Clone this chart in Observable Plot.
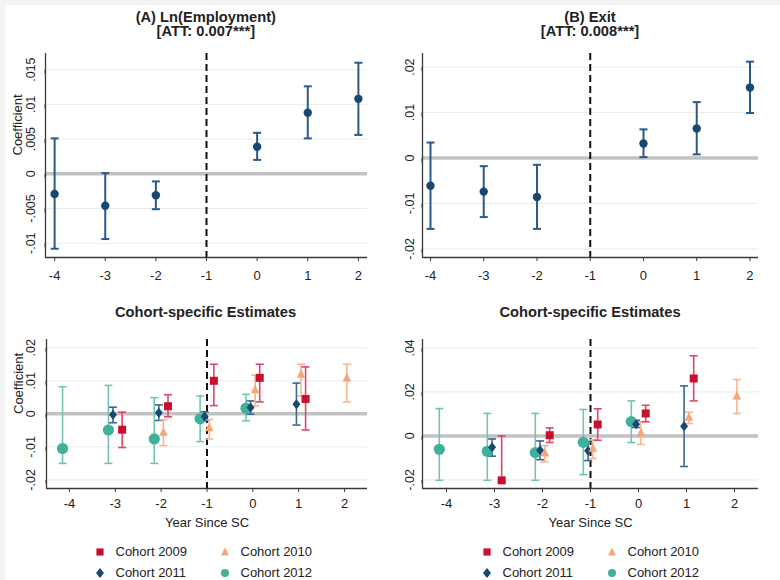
<!DOCTYPE html>
<html>
<head>
<meta charset="utf-8">
<script src="https://cdn.jsdelivr.net/npm/d3@7"></script>
<script src="https://cdn.jsdelivr.net/npm/@observablehq/plot@0.6"></script>
<style>
  html, body { margin: 0; padding: 0; background: #f3f3f3; }
  #page { position: absolute; left: 5px; top: 5px; width: 775px; height: 575px; background: #fff; }
  #root { position: absolute; left: 0; top: 0; width: 780px; height: 580px; font-family: "Liberation Sans", Arial, sans-serif; color: #222; }
  .panel { position: absolute; }
  .title { position: absolute; text-align: center; font-weight: bold; font-size: 14.7px; line-height: 14.7px; color: #222; }
  .leg { position: absolute; font-size: 13px; color: #222; white-space: nowrap; }
  .leg svg { position: absolute; overflow: visible; }
</style>
</head>
<body>
<div id="page"></div>
<div id="root"></div>
<script>
// ---------------- DATA ----------------
const eventYears = [-4, -3, -2, 0, 1, 2];
const xTicks = [-4, -3, -2, -1, 0, 1, 2];
const eventLine = -1;

// Panel A: Ln(Employment)
const empCoef = [-0.0029, -0.0046, -0.0031, 0.0039, 0.0088, 0.0108];
const empLo   = [-0.0108, -0.0094, -0.0051, 0.0020, 0.0051, 0.0056];
const empHi   = [ 0.0051,  0.0001, -0.0011, 0.0059, 0.0126, 0.0160];
const empTicks  = [-0.01, -0.005, 0, 0.005, 0.01, 0.015];
const empLabels = ["-.01", "-.005", "0", ".005", ".01", ".015"];

// Panel B: Exit
const exitCoef = [-0.0061, -0.0074, -0.0086, 0.0032, 0.0065, 0.0155];
const exitLo   = [-0.0156, -0.0130, -0.0156, 0.0002, 0.0008, 0.0099];
const exitHi   = [ 0.0034, -0.0018, -0.0015, 0.0063, 0.0123, 0.0212];
const exitTicks  = [-0.02, -0.01, 0, 0.01, 0.02];
const exitLabels = ["-.02", "-.01", "0", ".01", ".02"];

// Cohort-specific
const cohortNames = ["Cohort 2009", "Cohort 2010", "Cohort 2011", "Cohort 2012"];
const cohortYears = [
  [-3, -2, -1, 0, 1],   // 2009
  [-2, -1, 0, 1, 2],    // 2010
  [-3, -2, -1, 0, 1],   // 2011
  [-4, -3, -2, -1, 0]   // 2012
];
// Employment, cohort-specific
const empCohortCoef = [
  [-0.0048, 0.0023, 0.0100, 0.0109, 0.0045],
  [-0.0055, -0.0042, 0.0073, 0.0120, 0.0109],
  [-0.0003, 0.0003, -0.0008, 0.0019, 0.0029],
  [-0.0105, -0.0049, -0.0076, -0.0015, 0.0017]
];
const empCohortLo = [
  [-0.0102, -0.0009, 0.0025, 0.0036, -0.0049],
  [-0.0096, -0.0076, 0.0024, 0.0054, 0.0036],
  [-0.0027, -0.0020, -0.0021, -0.0001, -0.0034],
  [-0.0150, -0.0150, -0.0150, -0.0084, -0.0021]
];
const empCohortHi = [
  [0.0005, 0.0058, 0.0150, 0.0150, 0.0142],
  [-0.0018, -0.0017, 0.0117, 0.0150, 0.0150],
  [0.0020, 0.0027, 0.0006, 0.0039, 0.0093],
  [0.0082, 0.0086, 0.0049, 0.0054, 0.0059]
];
const empCohortTicks  = [-0.02, -0.01, 0, 0.01, 0.02];
const empCohortLabels = ["-.02", "-.01", "0", ".01", ".02"];

// Exit, cohort-specific
const exitCohortCoef = [
  [-0.0202, 0.0003, 0.0052, 0.0102, 0.0261],
  [-0.0077, -0.0055, 0.0015, 0.0086, 0.0182],
  [-0.0052, -0.0065, -0.0068, 0.0053, 0.0044],
  [-0.0061, -0.0070, -0.0076, -0.0029, 0.0065]
];
const exitCohortLo = [
  [-0.0205, -0.0030, -0.0020, 0.0064, 0.0159],
  [-0.0118, -0.0103, -0.0039, 0.0056, 0.0102],
  [-0.0092, -0.0108, -0.0112, 0.0038, -0.0139],
  [-0.0202, -0.0202, -0.0202, -0.0176, -0.0030]
];
const exitCohortHi = [
  [0.0000, 0.0036, 0.0123, 0.0139, 0.0364],
  [-0.0044, -0.0018, 0.0064, 0.0108, 0.0256],
  [-0.0014, -0.0023, -0.0027, 0.0071, 0.0227],
  [0.0124, 0.0102, 0.0102, 0.0120, 0.0159]
];
const exitCohortTicks  = [-0.02, 0, 0.02, 0.04];
const exitCohortLabels = ["-.02", "0", ".02", ".04"];

// ---------------- STYLE ----------------
const navy = "#1a476f";
const ciNavy = "#2c5a86";
const cohortColors = ["#c8102e", "#f7a677", "#1a476f", "#3fb09a"];
const cohortCIColors = ["#d84a68", "#f8b58f", "#3c6791", "#72c4b2"];
const cohortOffset = [0.15, 0.05, -0.05, -0.15];
const FONT = "'Liberation Sans', Arial, sans-serif";

const capSym = { draw(ctx, size) { const r = Math.sqrt(size / Math.PI); ctx.moveTo(-r, 0); ctx.lineTo(r, 0); } };
const squareSym = { draw(ctx, size) { const s = Math.sqrt(size / Math.PI); ctx.rect(-s, -s, 2 * s, 2 * s); } };
const diamondSym = { draw(ctx, size) { const s = Math.sqrt(size / Math.PI); ctx.moveTo(0, -1.25 * s); ctx.lineTo(s, 0); ctx.lineTo(0, 1.25 * s); ctx.lineTo(-s, 0); ctx.closePath(); } };
const triSym = { draw(ctx, size) { const s = Math.sqrt(size / Math.PI); ctx.moveTo(0, -1.15 * s); ctx.lineTo(s, 0.85 * s); ctx.lineTo(-s, 0.85 * s); ctx.closePath(); } };
const circSym = { draw(ctx, size) { const s = Math.sqrt(size / Math.PI); ctx.moveTo(s, 0); ctx.arc(0, 0, s, 0, 2 * Math.PI); } };
const cohortSymbols = [squareSym, triSym, diamondSym, circSym];
const cohortR = [4, 4.3, 4, 5.6];

function rows(xs, coef, lo, hi) {
  return xs.map((x, i) => ({ x, coef: coef[i], lo: lo[i], hi: hi[i] }));
}

function panel(o) {
  const fmt = d => o.yLabels[o.yTicks.indexOf(d)];
  return Plot.plot({
    width: o.width, height: o.height,
    marginLeft: o.ml, marginRight: o.mr, marginTop: o.mt, marginBottom: o.mb,
    style: { fontFamily: FONT, fontSize: "13px", color: "#222", background: "transparent", overflow: "visible" },
    x: { domain: o.xDomain },
    y: { domain: o.yDomain },
    marks: [
      Plot.ruleY(o.yTicks.filter(t => t !== 0), { stroke: "#ebebeb", strokeWidth: 1 }),
      Plot.ruleY([0], { stroke: "#c2c2c2", strokeWidth: 3.5 }),
      Plot.ruleX([eventLine], { stroke: "#111", strokeWidth: 2, strokeDasharray: "7,4" }),
      ...o.marks,
      Plot.ruleX([o.xDomain[0]], { stroke: "#3a3a3a", strokeWidth: 1.3 }),
      Plot.ruleY([o.yDomain[0]], { stroke: "#3a3a3a", strokeWidth: 1.3 }),
      Plot.axisX(xTicks, { tickFormat: d => String(d), tickSize: 4, tickPadding: o.xPad, fontSize: 13, label: null, stroke: "#3a3a3a" }),
      Plot.axisY(o.yTicks, { tickFormat: fmt, tickSize: 4, tickPadding: o.yPad, rotate: -90, textAnchor: "middle", fontSize: 12.5, label: null, stroke: "#3a3a3a" }),
      o.ylabel ? Plot.text([o.ylabel], { text: d => d, frameAnchor: "left", rotate: -90, dx: -28, fontSize: 13 }) : null,
      o.xlabel ? Plot.text([o.xlabel], { text: d => d, frameAnchor: "bottom", dy: 38, fontSize: 13 }) : null
    ]
  });
}

function aggMarks(data) {
  return [
    Plot.ruleX(data, { x: "x", y1: "lo", y2: "hi", stroke: ciNavy, strokeWidth: 2 }),
    Plot.dot(data, { x: "x", y: "lo", symbol: capSym, r: 4, stroke: ciNavy, fill: "none", strokeWidth: 2 }),
    Plot.dot(data, { x: "x", y: "hi", symbol: capSym, r: 4, stroke: ciNavy, fill: "none", strokeWidth: 2 }),
    Plot.dot(data, { x: "x", y: "coef", r: 4.2, fill: navy, stroke: "none" })
  ];
}

function cohortMarks(coefs, los, his) {
  const sets = cohortNames.map((n, k) => rows(cohortYears[k], coefs[k], los[k], his[k]));
  const ci = [], pts = [];
  const order = [3, 2, 1, 0];
  for (const k of order) {
    const xf = d => d.x + cohortOffset[k];
    ci.push(Plot.ruleX(sets[k], { x: xf, y1: "lo", y2: "hi", stroke: cohortCIColors[k], strokeWidth: 1.6 }));
    ci.push(Plot.dot(sets[k], { x: xf, y: "lo", symbol: capSym, r: 4, stroke: cohortCIColors[k], fill: "none", strokeWidth: 1.6 }));
    ci.push(Plot.dot(sets[k], { x: xf, y: "hi", symbol: capSym, r: 4, stroke: cohortCIColors[k], fill: "none", strokeWidth: 1.6 }));
    pts.push(Plot.dot(sets[k], { x: xf, y: "coef", symbol: cohortSymbols[k], r: cohortR[k], fill: cohortColors[k], stroke: "none" }));
  }
  return [...ci, ...pts];
}

const root = document.getElementById("root");
function place(el, left, top) {
  const d = document.createElement("div");
  d.className = "panel";
  d.style.left = left + "px"; d.style.top = top + "px";
  d.appendChild(el);
  root.appendChild(d);
}
function title(lines, cx, top) {
  const d = document.createElement("div");
  d.className = "title";
  d.style.left = (cx - 150) + "px"; d.style.width = "300px"; d.style.top = top + "px";
  d.innerHTML = lines.map(l => `<div>${l}</div>`).join("");
  root.appendChild(d);
}

// Top-left
place(panel({
  width: 390, height: 245, ml: 45, mr: 23, mt: 8, mb: 33,
  xDomain: [-4.18, 2.18], yDomain: [-0.01206, 0.01733],
  yTicks: empTicks, yLabels: empLabels, ylabel: "Coefficient", xPad: 9, yPad: 11,
  marks: aggMarks(rows(eventYears, empCoef, empLo, empHi))
}), 0, 45);
title(["(A) Ln(Employment)", "[ATT: 0.007***]"], 205.8, 9.5);

// Top-right
place(panel({
  width: 390, height: 245, ml: 32, mr: 22, mt: 8, mb: 33,
  xDomain: [-4.15, 2.16], yDomain: [-0.0219, 0.0230],
  yTicks: exitTicks, yLabels: exitLabels, ylabel: null, xPad: 9, yPad: 9,
  marks: aggMarks(rows(eventYears, exitCoef, exitLo, exitHi))
}), 390, 45);
title(["(B) Exit", "[ATT: 0.008***]"], 590, 9.5);

// Bottom-left
place(panel({
  width: 390, height: 215, ml: 46, mr: 23, mt: 14, mb: 52,
  xDomain: [-4.5, 2.5], yDomain: [-0.0226, 0.0225],
  yTicks: empCohortTicks, yLabels: empCohortLabels, ylabel: "Coefficient", xlabel: "Year Since SC", xPad: 6, yPad: 11.5,
  marks: cohortMarks(empCohortCoef, empCohortLo, empCohortHi)
}), 0, 325);
title(["Cohort-specific Estimates"], 205.5, 305);

// Bottom-right
place(panel({
  width: 390, height: 215, ml: 32, mr: 22, mt: 14, mb: 52,
  xDomain: [-4.5, 2.5], yDomain: [-0.0239, 0.0438],
  yTicks: exitCohortTicks, yLabels: exitCohortLabels, ylabel: null, xlabel: "Year Since SC", xPad: 6, yPad: 9,
  marks: cohortMarks(exitCohortCoef, exitCohortLo, exitCohortHi)
}), 390, 325);
title(["Cohort-specific Estimates"], 590, 305);

// Legends
function legend(x0) {
  const pos = [[0, 0], [125, 0], [0, 20.5], [125, 20.5]];
  cohortNames.forEach((name, k) => {
    const [dx, dy] = pos[k];
    const item = document.createElement("div");
    item.className = "leg";
    item.style.left = (x0 + dx) + "px";
    item.style.top = (552 + dy - 8) + "px";
    item.style.height = "16px";
    const r = k === 3 ? 4 : (k === 0 ? 3.6 : 4);
    const path = d3.symbol(cohortSymbols[k], Math.PI * r * r)();
    item.innerHTML = `<svg width="1" height="1" style="left:0px;top:8px"><path d="${path}" fill="${cohortColors[k]}"/></svg>` +
      `<span style="position:absolute;left:16px;top:0;line-height:16px">${name}</span>`;
    root.appendChild(item);
  });
}
legend(99.5);
legend(486.5);
</script>
</body>
</html>
